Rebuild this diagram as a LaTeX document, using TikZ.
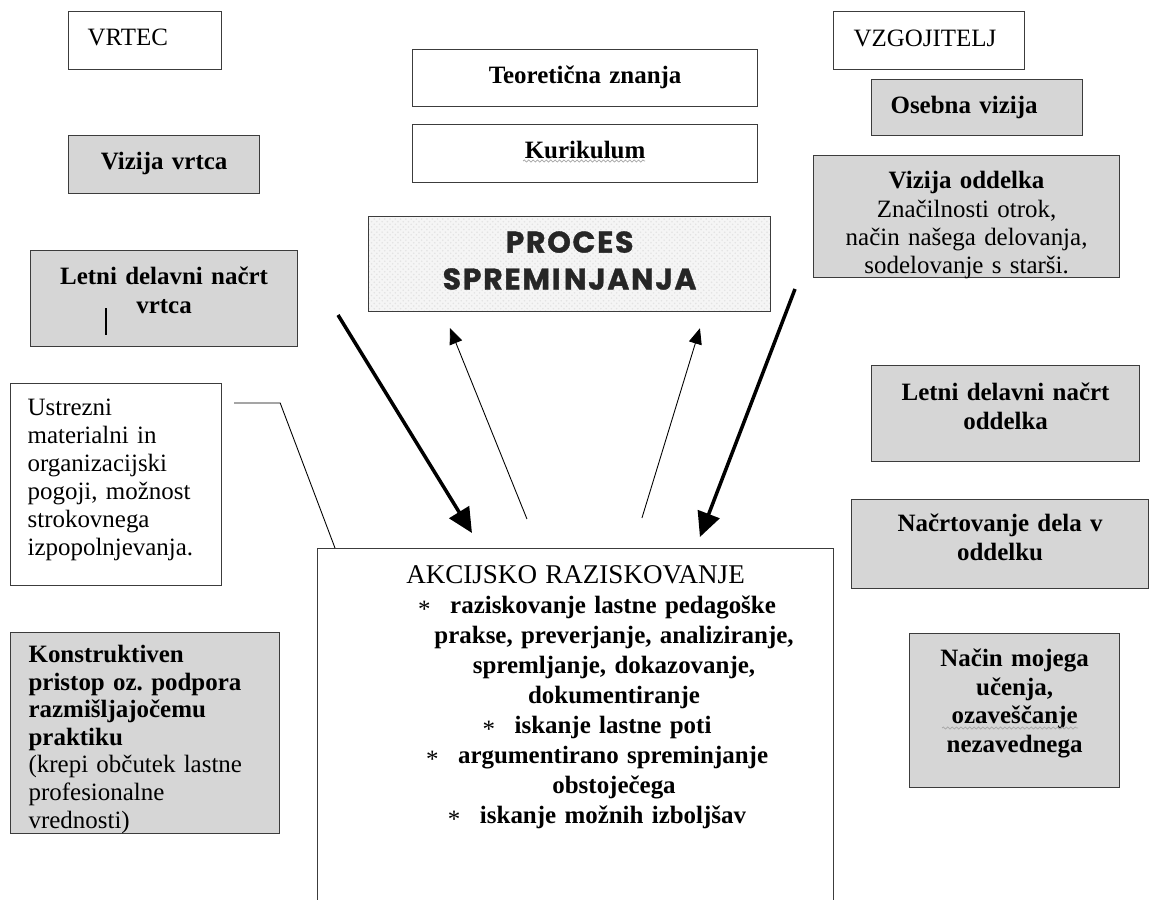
\documentclass[tikz,border=0pt]{standalone}
\usepackage{fontspec}
\setmainfont{Liberation Serif}
\newfontfamily\procesfont[LetterSpace=6, FakeBold=1.2]{Poppins}
\usetikzlibrary{arrows.meta, patterns, decorations.pathmorphing}
\frenchspacing
\definecolor{boxgray}{RGB}{214,214,214}
\definecolor{edgegray}{RGB}{60,60,60}
\tikzstyle{whitebox} = [rectangle, 
anchor=north west, 
inner sep=0pt, 
draw=edgegray, 
line width=0.7pt, 
fill=white]
\tikzstyle{graybox} = [whitebox, 
fill=boxgray]
\tikzstyle{bigarrow} = [line width=2pt, -{Triangle[length=14pt,width=13pt]}]
\tikzstyle{thinarrow} = [line width=0.5pt, -{Triangle[length=9pt,width=7.5pt]}]
\tikzstyle{spell} = [gray!70, decorate, decoration={snake, amplitude=0.6pt, segment length=2.5pt}]

\begin{document}
\begin{tikzpicture}[x=0.02cm, y=-0.02cm, font=\fontsize{14.2pt}{16.2pt}\selectfont]

  \clip (0,0) rectangle (1149,899);

  % vrtec
  \node (vrtec) [whitebox, inner xsep=0.38cm, text width=2.30cm, text height=0.68cm, text depth=0.48cm, align=left] at (68,11) {VRTEC};
  \node (vizija) [graybox, text width=3.82cm, text height=0.68cm, text depth=0.48cm, align=center] at (68,135) {\textbf{Vizija vrtca}};
  \node (letnivrtca) [graybox, text width=5.34cm, text height=0.68cm, text depth=1.24cm, align=center] at (30,250) {\textbf{Letni delavni načrt}\\\textbf{vrtca}};
  \draw[line width=0.8pt] (106,308) -- (106,335);
  \node (ustrezni) [whitebox, inner xsep=0.34cm, text width=3.54cm, text height=0.64cm, text depth=3.40cm, align=left, font=\fontsize{14.2pt}{15.9pt}\selectfont] at (10,383) {Ustrezni\\materialni in\\organizacijski\\pogoji, možnost\\strokovnega\\izpopolnjevanja.};
  \node (konstr) [graybox, inner xsep=0.36cm, text width=4.66cm, text height=0.60cm, text depth=3.42cm, align=left, font=\fontsize{14.2pt}{15.7pt}\selectfont] at (10,632) {\textbf{Konstruktiven}\\\textbf{pristop oz. podpora}\\\textbf{razmišljajočemu}\\\textbf{praktiku}\\(krepi občutek lastne\\profesionalne\\vrednosti)};

  % sredina
  \node (teor) [whitebox, text width=6.90cm, text height=0.68cm, text depth=0.46cm, align=center] at (412,49) {\textbf{Teoretična znanja}};
  \node (kuri) [whitebox, text width=6.90cm, text height=0.68cm, text depth=0.48cm, align=center] at (412,124) {\textbf{Kurikulum}};
  \draw[spell] (523,161) -- (645,161);
  \node (proces) [whitebox, preaction={fill=gray!8}, pattern=crosshatch dots, pattern color=gray!22, text width=8.04cm, text height=0.72cm, text depth=1.18cm, align=center, font=\procesfont\bfseries\fontsize{17pt}{21pt}\selectfont, text=black!85] at (368,216) {PROCES\\SPREMI\kern2pt NJANJA};
  \node (akcija) [whitebox, text width=10.32cm, text height=0.70cm, text depth=6.74cm, align=center, font=\fontsize{14.2pt}{17.1pt}\selectfont] at (317,548) {{\fontsize{15.4pt}{17pt}\selectfont AKCIJSKO RAZISKOVANJE}\\
    \hspace*{0.86cm}\makebox[0.64cm][l]{\raisebox{-0.3ex}{*}}\textbf{raziskovanje lastne pedagoške}\\
    \hspace*{1.54cm}\textbf{prakse, preverjanje, analiziranje,}\\
    \hspace*{1.54cm}\textbf{spremljanje, dokazovanje,}\\
    \hspace*{1.54cm}\textbf{dokumentiranje}\\
    \hspace*{0.86cm}\makebox[0.64cm][l]{\raisebox{-0.3ex}{*}}\textbf{iskanje lastne poti}\\
    \hspace*{0.86cm}\makebox[0.64cm][l]{\raisebox{-0.3ex}{*}}\textbf{argumentirano spreminjanje}\\
    \hspace*{1.54cm}\textbf{obstoječega}\\
    \hspace*{0.86cm}\makebox[0.64cm][l]{\raisebox{-0.3ex}{*}}\textbf{iskanje možnih izboljšav}};

  % vzgojitelj
  \node (vzgoj) [whitebox, inner xsep=0.40cm, text width=3.02cm, text height=0.70cm, text depth=0.46cm, align=left] at (833,11) {VZGOJITELJ};
  \node (osebna) [graybox, inner xsep=0.38cm, text width=3.46cm, text height=0.68cm, text depth=0.44cm, align=left] at (871,79) {\textbf{Osebna vizija}};
  \node (vizodd) [graybox, text width=6.12cm, text height=0.66cm, text depth=1.78cm, align=center] at (813,155) {\textbf{Vizija oddelka}\\Značilnosti otrok,\\način našega delovanja,\\sodelovanje s starši.};
  \node (letniodd) [graybox, text width=5.36cm, text height=0.70cm, text depth=1.22cm, align=center] at (871,365) {\textbf{Letni delavni načrt}\\\textbf{oddelka}};
  \node (nacrt) [graybox, text width=5.94cm, text height=0.64cm, text depth=1.14cm, align=center] at (851,499) {\textbf{Načrtovanje dela v}\\\textbf{oddelku}};
  \node (nacin) [graybox, text width=4.20cm, text height=0.66cm, text depth=2.42cm, align=center] at (909,633) {\textbf{Način mojega}\\\textbf{učenja,}\\\textbf{ozaveščanje}\\\textbf{nezavednega}};
  \draw[spell] (942,728) -- (1078,728);

  % puscice
  \coordinate (inL) at (338,315);
  \coordinate (inR) at (795,289);
  \draw [bigarrow] (inL) -- ([xshift=3.10cm, yshift=0.30cm]akcija.north west);
  \draw [bigarrow] (inR) -- ([xshift=7.66cm, yshift=0.22cm]akcija.north west);
  \draw [thinarrow] ([xshift=4.20cm, yshift=0.58cm]akcija.north west) -- ([xshift=1.64cm, yshift=-0.32cm]proces.south west);
  \draw [thinarrow] ([xshift=6.50cm, yshift=0.60cm]akcija.north west) -- ([xshift=6.64cm, yshift=-0.32cm]proces.south west);
  \draw [line width=0.5pt] ([xshift=0.24cm, yshift=-0.40cm]ustrezni.north east) -- ++(46,0) -- ([xshift=0.36cm]akcija.north west);

\end{tikzpicture}
\end{document}
